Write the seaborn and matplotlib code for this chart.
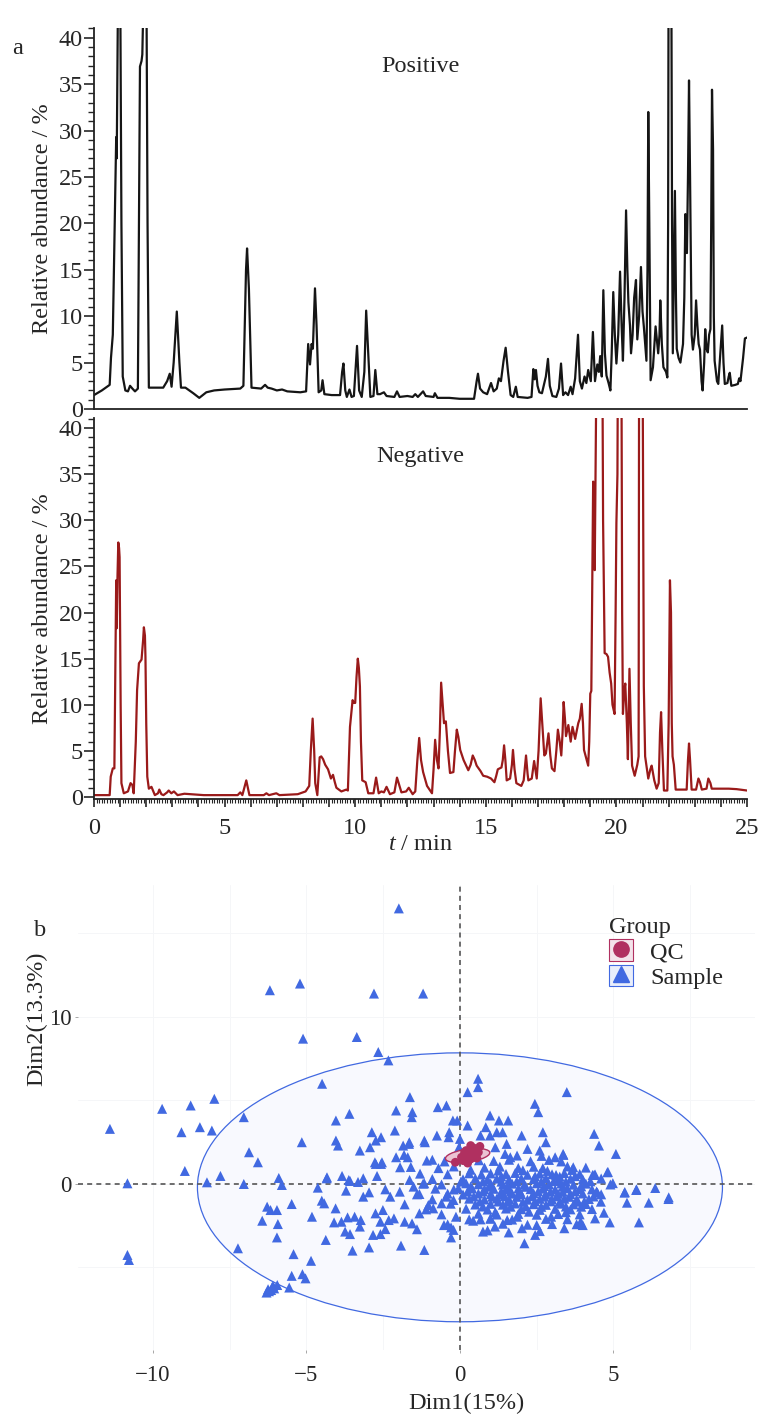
import matplotlib
matplotlib.use("Agg")
import pandas as pd
import matplotlib.pyplot as plt
import seaborn as sns
from matplotlib.patches import Ellipse, Rectangle
from matplotlib.lines import Line2D
from matplotlib.ticker import MultipleLocator, FuncFormatter

# ---------------- data ----------------
# positive-ion chromatogram: (time / min, relative abundance / %)
pos_trace = [
    (0.0, 1.5), (0.3, 2.0), (0.6, 2.6), (0.65, 5.5), (0.72, 8), (0.78, 18), (0.85, 29.3), (0.87, 27),
    (0.92, 45), (1.0, 48), (1.05, 20), (1.1, 3.5), (1.2, 2.0), (1.3, 1.9), (1.38, 2.5), (1.47, 2.2),
    (1.57, 1.9), (1.68, 2.2), (1.72, 20), (1.76, 36.9), (1.82, 37.5), (1.85, 38.2), (1.9, 45), (2.0, 50),
    (2.05, 20), (2.1, 2.3), (2.4, 2.3), (2.65, 2.3), (2.8, 3.0), (2.9, 3.8), (2.97, 2.4), (3.05, 5),
    (3.17, 10.5), (3.27, 5), (3.33, 2.3), (3.5, 2.3), (3.6, 2.1), (3.8, 1.7), (4.03, 1.2), (4.3, 1.8),
    (4.6, 2.0), (5.0, 2.1), (5.6, 2.2), (5.72, 2.5), (5.82, 15), (5.86, 17.3), (5.93, 13), (6.03, 2.3),
    (6.4, 2.2), (6.55, 2.6), (6.65, 2.3), (6.8, 2.2), (7.0, 2.0), (7.2, 2.1), (7.4, 1.9), (7.9, 1.8),
    (8.12, 1.9), (8.2, 7.0), (8.27, 4.8), (8.33, 7.0), (8.38, 6.5), (8.46, 13.0), (8.52, 9), (8.6, 1.8),
    (8.7, 2.0), (8.75, 3.1), (8.82, 1.6), (9.1, 1.5), (9.42, 1.5), (9.5, 4.0), (9.55, 4.9), (9.62, 2.0),
    (9.68, 1.3), (9.78, 2.1), (9.86, 1.3), (9.95, 1.4), (10.07, 6.8), (10.15, 2.0), (10.25, 1.3),
    (10.35, 4), (10.42, 10.6), (10.5, 6), (10.58, 1.3), (10.7, 1.4), (10.77, 4.2), (10.85, 1.6),
    (10.95, 1.6), (11.1, 1.8), (11.2, 1.4), (11.5, 1.3), (11.6, 1.9), (11.7, 1.3), (12.0, 1.4),
    (12.2, 1.3), (12.3, 1.6), (12.4, 1.3), (12.6, 1.9), (12.7, 1.4), (13.0, 1.3), (13.05, 1.7),
    (13.15, 1.2), (13.6, 1.2), (14.0, 1.1), (14.55, 1.1), (14.65, 3.0), (14.7, 3.8), (14.78, 2.2),
    (14.9, 1.8), (15.05, 1.6), (15.2, 2.8), (15.3, 1.9), (15.42, 2.2), (15.5, 3.3), (15.58, 3.0),
    (15.68, 5.2), (15.76, 6.6), (15.85, 4), (15.95, 1.5), (16.05, 1.3), (16.15, 2.4), (16.22, 1.3),
    (16.6, 1.2), (16.75, 1.3), (16.82, 4.3), (16.87, 3.2), (16.92, 4.2), (16.98, 2.5), (17.05, 1.8),
    (17.15, 1.7), (17.3, 3.5), (17.38, 5.4), (17.45, 2.5), (17.55, 1.4), (17.7, 1.3), (17.8, 2.2),
    (17.88, 4.9), (17.96, 1.5), (18.05, 1.8), (18.15, 1.5), (18.25, 2.4), (18.32, 1.6), (18.42, 3.3),
    (18.53, 8.0), (18.6, 3), (18.68, 2.2), (18.78, 3.5), (18.85, 2.8), (18.92, 4.2), (19.02, 3.0),
    (19.1, 8.3), (19.18, 3.0), (19.27, 4.8), (19.33, 4.0), (19.38, 5.7), (19.44, 3.5), (19.5, 12.8),
    (19.56, 6), (19.62, 3.6), (19.7, 2.8), (19.77, 2.0), (19.82, 6), (19.88, 12.6), (19.94, 8),
    (20.0, 4.9), (20.07, 8), (20.14, 14.8), (20.2, 9), (20.25, 5.2), (20.31, 12), (20.37, 21.4),
    (20.42, 15), (20.46, 11.5), (20.52, 9), (20.56, 6.0), (20.62, 8), (20.68, 12), (20.75, 13.9),
    (20.8, 7.5), (20.87, 10), (20.94, 15.3), (21.0, 10.5), (21.05, 8.9), (21.1, 7), (21.15, 5.2),
    (21.19, 15), (21.22, 32.0), (21.26, 20), (21.31, 3.1), (21.4, 4.5), (21.5, 8.9), (21.55, 7.5),
    (21.6, 6.0), (21.65, 8), (21.68, 11.7), (21.74, 7), (21.8, 4.5), (21.9, 4.0), (21.95, 3.4),
    (21.98, 20), (22.0, 50), (22.1, 50), (22.13, 20), (22.16, 6), (22.2, 15), (22.24, 23.5),
    (22.28, 12), (22.31, 6.5), (22.38, 5.5), (22.45, 5.0), (22.5, 6), (22.55, 7.0), (22.6, 12),
    (22.64, 21), (22.7, 16.8), (22.74, 25), (22.78, 35.4), (22.82, 25), (22.88, 8), (22.93, 6.4),
    (23.0, 8), (23.05, 11.7), (23.1, 9), (23.15, 7), (23.2, 6.4), (23.26, 3), (23.3, 2.0), (23.36, 5),
    (23.4, 8.6), (23.45, 6.5), (23.5, 6.1), (23.55, 8), (23.6, 8.6), (23.63, 20), (23.66, 34.4),
    (23.7, 28), (23.73, 10), (23.76, 5.2), (23.85, 3), (23.9, 2.7), (24.0, 7), (24.05, 9.0), (24.1, 5),
    (24.15, 2.7), (24.25, 2.8), (24.3, 3.5), (24.34, 3.9), (24.4, 2.5), (24.55, 2.6), (24.65, 2.7),
    (24.7, 3.3), (24.75, 3.0), (24.85, 5.5), (24.92, 7.6), (25.0, 7.7),
]

# negative-ion chromatogram
neg_trace = [
    (0.0, 0.2), (0.6, 0.2), (0.64, 2.2), (0.72, 3.1), (0.78, 3.1), (0.82, 15), (0.85, 23.5), (0.87, 18.3),
    (0.9, 24), (0.93, 27.6), (0.96, 27), (0.98, 26), (1.02, 10), (1.05, 1.5), (1.14, 0.4), (1.3, 0.6),
    (1.4, 1.5), (1.47, 1.3), (1.52, 0.4), (1.6, 6), (1.65, 11.6), (1.72, 14.5), (1.82, 14.9), (1.88, 17),
    (1.91, 18.4), (1.95, 17.5), (1.97, 15.2), (2.0, 8), (2.04, 2.2), (2.1, 0.9), (2.15, 1.0), (2.2, 1.1),
    (2.33, 0.2), (2.45, 0.4), (2.5, 0.8), (2.58, 0.3), (2.66, 0.2), (2.8, 0.5), (2.86, 0.7), (2.96, 0.4),
    (3.06, 0.6), (3.2, 0.2), (3.46, 0.35), (3.7, 0.3), (4.2, 0.2), (5.5, 0.2), (5.6, 0.5), (5.68, 0.2),
    (5.83, 1.8), (5.95, 0.2), (6.5, 0.2), (6.6, 0.4), (6.7, 0.2), (6.98, 0.4), (7.1, 0.2), (7.8, 0.3),
    (8.1, 0.6), (8.24, 1.2), (8.3, 5), (8.37, 8.5), (8.43, 5), (8.47, 1.5), (8.55, 0.2), (8.6, 2.5),
    (8.64, 4.3), (8.7, 4.4), (8.77, 4.1), (8.85, 3.5), (8.96, 3.0), (9.07, 2.0), (9.15, 2.4), (9.22, 1.6),
    (9.28, 1.0), (9.47, 0.6), (9.66, 0.8), (9.72, 0.7), (9.8, 7.6), (9.9, 10.5), (9.95, 10.2),
    (10.0, 10.2), (10.05, 13), (10.1, 15.0), (10.14, 14), (10.18, 12), (10.22, 6), (10.27, 1.8),
    (10.4, 1.6), (10.5, 0.4), (10.7, 0.4), (10.8, 2.1), (10.9, 0.4), (11.0, 0.6), (11.1, 0.5),
    (11.2, 1.1), (11.33, 0.3), (11.5, 0.5), (11.6, 2.1), (11.77, 0.5), (11.95, 0.6), (12.05, 1.0),
    (12.2, 0.3), (12.3, 0.6), (12.38, 4), (12.45, 6.4), (12.52, 4), (12.6, 2.7), (12.75, 1.2),
    (12.94, 0.4), (13.0, 3), (13.06, 6.2), (13.13, 4), (13.19, 3.1), (13.24, 7), (13.29, 12.4),
    (13.35, 10), (13.4, 8.0), (13.47, 8.2), (13.55, 5), (13.63, 2.6), (13.76, 2.7), (13.82, 5),
    (13.89, 7.3), (13.95, 6.5), (14.02, 5.1), (14.15, 4), (14.33, 2.9), (14.42, 3.5), (14.5, 4.5),
    (14.58, 4), (14.65, 3.4), (14.8, 2.8), (14.9, 2.3), (15.05, 2.2), (15.2, 2.0), (15.33, 1.6),
    (15.4, 2.3), (15.46, 3.0), (15.6, 3.2), (15.65, 4), (15.7, 5.6), (15.75, 4), (15.8, 1.8),
    (15.93, 2.0), (16.0, 3.5), (16.04, 5.1), (16.1, 3), (16.17, 1.5), (16.36, 1.2), (16.45, 1.8),
    (16.54, 4.5), (16.6, 2.5), (16.63, 1.8), (16.76, 2.0), (16.85, 3.9), (16.95, 2.0), (17.02, 5),
    (17.1, 10.7), (17.16, 8), (17.24, 4.5), (17.3, 4.7), (17.4, 6.9), (17.47, 4.5), (17.53, 3.1),
    (17.63, 2.8), (17.7, 5), (17.76, 7.3), (17.83, 6), (17.89, 4.5), (17.94, 7), (17.98, 10.3),
    (18.03, 8.5), (18.07, 6.6), (18.16, 7.8), (18.25, 6.0), (18.32, 7.6), (18.42, 6.3), (18.54, 8.0),
    (18.6, 8.5), (18.67, 10.1), (18.72, 8), (18.76, 5.1), (18.92, 3.4), (18.96, 6), (19.0, 11.2),
    (19.04, 11.5), (19.08, 25), (19.11, 34.2), (19.14, 30), (19.17, 24.6), (19.2, 35), (19.24, 48),
    (19.38, 52), (19.46, 50), (19.49, 30), (19.55, 15.6), (19.62, 15.5), (19.68, 15.2), (19.74, 13.5),
    (19.8, 12.3), (19.85, 10), (19.93, 9.0), (19.97, 20), (20.0, 29.7), (20.04, 35), (20.06, 50),
    (20.19, 50), (20.22, 20), (20.25, 9.0), (20.3, 11.5), (20.34, 12.3), (20.4, 8), (20.44, 4.1),
    (20.47, 9), (20.5, 13.9), (20.55, 8), (20.6, 3.4), (20.7, 2.3), (20.8, 3.5), (20.85, 4.4),
    (20.87, 50), (21.0, 50), (21.05, 12), (21.1, 4.4), (21.22, 2.0), (21.3, 3), (21.35, 3.4),
    (21.45, 1.8), (21.54, 0.9), (21.62, 1.5), (21.67, 7), (21.71, 9.2), (21.76, 5), (21.82, 0.7),
    (21.95, 0.7), (22.0, 8), (22.05, 23.5), (22.09, 20), (22.12, 8), (22.15, 4.4), (22.2, 3.5),
    (22.27, 0.8), (22.69, 0.8), (22.74, 4), (22.78, 5.8), (22.82, 4), (22.88, 0.8), (23.05, 0.8),
    (23.1, 1.5), (23.14, 2.0), (23.2, 1.6), (23.27, 0.8), (23.45, 0.9), (23.52, 2.0), (23.6, 1.5),
    (23.65, 0.9), (24.0, 0.9), (24.3, 0.9), (24.6, 0.85), (25.0, 0.7),
]

# PCA scores (Dim1, Dim2)
sample_scores = [
    # outer / upper points
    (-1.99, 16.5), (-6.19, 11.6), (-5.21, 12.0), (-2.8, 11.4), (-1.2, 11.4), (-5.11, 8.7), (-3.36, 8.8),
    (-2.66, 7.9), (-2.33, 7.4), (-4.49, 6.0), (0.59, 6.3), (0.59, 5.8), (0.25, 5.5), (3.48, 5.5),
    (-7.04, 4.0), (-8.0, 5.1), (-8.77, 4.7), (-9.7, 4.5), (-11.4, 3.3), (-9.07, 3.1), (-8.47, 3.4),
    (-8.08, 3.2), (-5.15, 2.5), (-6.87, 1.9), (-6.58, 1.3), (-4.04, 3.8), (-3.6, 4.2), (-2.87, 3.1),
    (-2.57, 2.8), (-2.74, 2.6), (-2.93, 2.2), (-3.26, 2.0), (-4.04, 2.6), (-3.97, 2.3), (-2.08, 4.4),
    (-2.12, 3.2), (-2.77, 1.3), (-2.54, 1.3), (-2.08, 1.6), (-1.63, 5.2), (2.44, 4.8), (2.55, 4.3),
    (-1.55, 4.3), (-1.57, 4.0), (-0.72, 4.6), (-0.44, 4.7), (0.98, 4.1), (1.27, 3.8), (1.57, 3.8),
    (-0.23, 3.8), (-0.09, 3.8), (0.25, 3.5), (0.84, 3.4), (2.7, 3.1), (4.37, 3.0), (4.53, 2.3),
    (5.08, 1.8), (-0.75, 2.9), (-0.35, 3.1), (-0.37, 2.8), (0.0, 2.7), (0.67, 2.9), (0.98, 2.9),
    (1.2, 3.1), (1.39, 3.1), (2.01, 2.9), (-1.16, 2.6), (-1.85, 2.3), (-1.65, 2.5), (1.52, 2.4),
    (1.15, 2.2), (2.2, 2.1), (2.8, 2.5), (2.6, 2.0), (3.36, 1.8), (3.1, 1.6), (3.69, 1.0), (1.86, 1.7),
    (1.64, 1.6), (1.47, 1.8), (-1.08, 1.4), (-8.96, 0.78), (-7.8, 0.48), (-8.24, 0.1), (-7.04, 0.0),
    (-5.9, 0.36), (-5.8, -0.06), (-10.83, 0.04), (-4.33, 0.4), (-3.84, 0.48), (-3.62, 0.24),
    (-3.32, 0.12), (-2.74, 1.2), (-2.57, 1.2), (-1.95, 1.0), (-1.82, 1.74), (-1.7, 1.6), (-1.66, 2.4),
    (-1.14, 2.5), (-0.03, 2.2), (4.82, 0.72), (4.98, 0.05), (5.37, -0.48), (5.74, -0.36), (6.36, -0.24),
    (6.8, -0.8), (3.13, 0.54), (4.37, 0.54), (2.66, 1.68), (3.37, 1.74), (4.32, 0.54), (4.8, 0.7),
    (-4.34, 0.34), (-3.58, 0.18), (-3.15, 0.34), (-2.7, 0.48), (-4.63, -0.22), (-3.71, -0.4),
    (-3.15, -0.76), (-2.96, -0.5), (-2.43, -0.32), (-2.27, -0.76), (-1.96, -0.46), (-1.32, -0.6),
    (-1.51, -0.16), (-1.64, 0.24), (-1.16, 0.04),
    # lower left
    (-6.28, -1.36), (-6.17, -1.56), (-5.96, -1.56), (-5.48, -1.2), (-6.44, -2.2), (-5.93, -2.4),
    (-5.96, -3.2), (-7.23, -3.85), (-5.42, -4.2), (-4.85, -4.6), (-5.48, -5.5), (-5.13, -5.4),
    (-5.03, -5.65), (-5.56, -6.2), (-6.09, -6.1), (-6.3, -6.5), (-6.22, -6.42), (-6.15, -6.35),
    (-6.05, -6.25), (-5.95, -6.05), (-6.25, -6.3), (-6.12, -6.18), (-10.83, -4.25), (-10.78, -4.55),
    (-4.82, -1.96), (-4.5, -1.0), (-4.42, -1.16), (-4.05, -1.46), (-4.1, -2.3), (-3.86, -2.26),
    (-3.66, -2.0), (-3.43, -1.96), (-3.23, -2.16), (-3.26, -2.55), (-3.74, -2.85), (-3.58, -3.0),
    (-4.37, -3.35), (-3.5, -3.99), (-2.96, -3.8), (-2.83, -3.05), (-2.59, -3.0), (-2.43, -2.7),
    (-2.59, -2.26), (-2.75, -1.76), (-2.51, -1.56), (-2.32, -2.16), (-2.15, -2.06), (-1.92, -3.69),
    (-1.8, -2.26), (-1.56, -2.36), (-1.4, -2.71), (-1.16, -3.95), (-1.32, -1.76), (-1.03, -1.26),
    (-0.87, -1.46), (-0.6, -1.16), (-0.52, -2.46), (-0.29, -2.6), (-0.21, -2.75), (-0.29, -3.2),
    (-0.13, -1.96), (-0.21, -0.96), (-0.45, -0.76), (-0.05, -0.26), (0.03, 0.14),
    # right side
    (6.79, -0.9), (6.15, -1.12), (5.83, -2.3), (5.75, -0.32), (5.36, -0.52), (5.44, -1.12),
    (4.88, -2.3), (4.48, -0.52), (4.59, -1.06), (4.69, -1.72), (4.4, -2.06), (4.0, -2.46),
    (3.93, -2.26), (3.4, -2.65), (2.97, -1.96), (2.5, -2.46), (2.45, -3.05), (2.1, -3.55),
    (1.59, -2.9), (1.14, -2.55), (2.02, -2.65), (0.75, -2.85), (0.67, -2.12), (0.43, -2.2),
    (0.99, -2.06), (1.54, -2.16), (1.86, -1.96),
    # dense core
    (-0.9, 1.45), (-0.5, 1.35), (0.62, 1.42), (1.1, 1.38), (1.6, 1.45), (2.3, 1.36), (2.9, 1.44), (3.3, 1.35),
    (-1.6, 1.02), (-0.7, 0.95), (-0.2, 1.05), (0.8, 0.98), (1.3, 1.04), (1.9, 0.96), (2.4, 1.03),
    (2.7, 0.95), (3.5, 1.05), (4.1, 0.98),
    (-1.3, 0.62), (-0.4, 0.58), (0.3, 0.64), (0.7, 0.57), (1.0, 0.63), (1.5, 0.6), (1.8, 0.66),
    (2.2, 0.55), (2.6, 0.62), (3.0, 0.58), (3.4, 0.65), (3.9, 0.6), (4.4, 0.57),
    (-0.9, 0.3), (0.1, 0.28), (0.5, 0.34), (0.9, 0.26), (1.2, 0.32), (1.6, 0.27), (2.0, 0.33),
    (2.4, 0.29), (2.8, 0.35), (3.2, 0.26), (3.6, 0.31), (4.0, 0.28), (4.6, 0.33),
    (-1.2, 0.02), (-0.6, -0.03), (0.2, 0.04), (0.6, -0.02), (1.0, 0.03), (1.4, -0.04), (1.7, 0.02),
    (2.1, -0.03), (2.5, 0.04), (2.9, -0.02), (3.3, 0.03), (3.7, -0.04), (4.1, 0.02), (4.9, -0.03),
    (-0.8, -0.28), (-0.2, -0.33), (0.4, -0.27), (0.8, -0.32), (1.1, -0.29), (1.5, -0.34),
    (1.9, -0.27), (2.3, -0.31), (2.7, -0.28), (3.1, -0.33), (3.5, -0.26), (3.9, -0.3), (4.3, -0.32),
    (-1.4, -0.62), (-0.4, -0.58), (0.1, -0.63), (0.6, -0.57), (1.0, -0.61), (1.3, -0.64),
    (1.7, -0.58), (2.0, -0.62), (2.4, -0.56), (2.8, -0.63), (3.2, -0.59), (3.6, -0.61), (4.0, -0.57),
    (4.6, -0.62),
    (-0.9, -0.92), (0.3, -0.88), (0.8, -0.93), (1.2, -0.87), (1.6, -0.91), (2.2, -0.94), (2.6, -0.89),
    (3.0, -0.92), (3.4, -0.88), (3.8, -0.93), (4.2, -0.9),
    (-1.8, -1.22), (-0.3, -1.18), (0.5, -1.23), (1.0, -1.19), (1.4, -1.24), (1.8, -1.17),
    (2.4, -1.21), (2.8, -1.25), (3.3, -1.18), (3.7, -1.22), (4.1, -1.2),
    (-1.1, -1.52), (0.2, -1.48), (0.9, -1.53), (1.5, -1.47), (2.0, -1.51), (2.6, -1.55),
    (3.1, -1.49), (3.6, -1.52), (4.3, -1.5),
    (-0.6, -1.82), (0.6, -1.78), (1.2, -1.83), (1.9, -1.79), (2.5, -1.84), (3.2, -1.8), (3.9, -1.82),
    (0.3, -2.12), (1.0, -2.08), (1.7, -2.13), (2.8, -2.09), (3.5, -2.11),
    (-0.4, -2.42), (1.4, -2.38), (2.2, -2.44), (3.0, -2.4), (3.8, -2.41),
    (0.9, -2.78), (2.6, -2.82),
    (0.35, 0.85), (1.25, 0.8), (2.05, 0.82), (2.85, 0.78), (3.65, 0.84), (0.75, -0.45),
    (1.65, -0.46), (2.55, -0.44), (3.35, -0.47), (1.25, -1.05), (2.05, -1.07), (2.95, -1.04),
    (3.85, -1.06), (1.15, -1.68), (2.25, -1.66), (3.45, -1.69),
    (0.35, -0.15), (0.95, -0.16), (1.55, -0.14), (2.15, -0.17), (2.75, -0.13), (3.35, -0.16),
    (3.95, -0.14), (0.25, -0.45), (1.35, -0.47), (1.95, -0.43), (2.95, -0.46), (3.75, -0.44),
    (4.45, -0.45), (0.45, -0.75), (1.05, -0.76), (1.45, -0.74), (1.85, -0.77), (2.35, -0.73),
    (2.75, -0.76), (3.15, -0.74), (3.55, -0.77), (4.35, -0.75), (0.65, -1.05), (1.55, -1.06),
    (2.45, -1.04), (3.25, -1.07), (4.05, -1.05), (0.75, -1.35), (1.65, -1.36), (2.15, -1.34),
    (2.65, -1.37), (3.45, -1.35), (3.95, -1.36), (0.75, 0.15), (1.35, 0.14), (1.85, 0.16),
    (2.65, 0.13), (3.05, 0.17), (3.45, 0.14), (4.25, 0.16), (1.35, 0.45), (2.45, 0.46),
    (3.25, 0.44), (3.75, 0.47),
]

qc_scores = [
    (0.1, 1.4), (0.2, 1.6), (0.3, 1.8), (0.35, 1.5), (0.4, 2.0), (0.5, 1.7), (0.25, 1.25),
    (0.15, 1.9), (0.45, 2.15), (0.6, 1.9), (0.05, 1.6), (0.3, 1.45), (0.55, 1.55), (0.4, 1.7),
    (0.2, 2.0), (-0.15, 1.3), (0.65, 2.25), (0.35, 2.3),
]

# 95% ellipses (centre x, centre y, width, height, angle)
sample_ellipse = (0.0, -0.2, 17.1, 16.1, 0)
qc_ellipse = (0.25, 1.7, 1.5, 0.75, 18)

group_names = ["QC", "Sample"]
group_colors = {"QC": "#B03060", "Sample": "#4169E1"}

# ---------------- style ----------------
sns.set_style("ticks")
plt.rcParams['font.family'] = ['Liberation Serif', 'DejaVu Serif']
plt.rcParams['mathtext.fontset'] = 'custom'
plt.rcParams['mathtext.rm'] = 'Liberation Serif'
plt.rcParams['mathtext.it'] = 'Liberation Serif:italic'

FS = 17.5
W, H = 765, 1416
fig = plt.figure(figsize=(W / 100, H / 100), dpi=100)


def fig_box(left, top, right, bottom):
    return [left / W, 1 - bottom / H, (right - left) / W, (bottom - top) / H]


pos_df = pd.DataFrame(pos_trace, columns=["time", "abundance"])
neg_df = pd.DataFrame(neg_trace, columns=["time", "abundance"])

ax1 = fig.add_axes(fig_box(94, 28, 747, 409))
ax2 = fig.add_axes(fig_box(94, 418, 747, 799))

sns.lineplot(data=pos_df, x="time", y="abundance", sort=False, estimator=None,
             color="#151515", lw=1.6, ax=ax1)
sns.lineplot(data=neg_df, x="time", y="abundance", sort=False, estimator=None,
             color="#9A1A1A", lw=1.6, ax=ax2)

for ax, ylim in [(ax1, (0, 41.05)), (ax2, (-0.22, 41.1))]:
    ax.set_xlim(0, 25)
    ax.set_ylim(*ylim)
    ax.set_ylabel("Relative abundance / %", fontsize=FS, labelpad=4)
    ax.set_xlabel("")
    ax.yaxis.set_major_locator(MultipleLocator(5))
    ax.yaxis.set_minor_locator(MultipleLocator(1))
    ax.tick_params(axis="y", which="major", length=7, width=1.2, labelsize=FS, pad=1)
    ax.tick_params(axis="y", which="minor", length=4, width=1.0)
    for s in ["top", "right"]:
        ax.spines[s].set_visible(False)
    for s in ["left", "bottom"]:
        ax.spines[s].set_linewidth(1.3)
        ax.spines[s].set_color("#222222")

ax1.tick_params(axis="x", which="both", bottom=False, labelbottom=False)
ax2.xaxis.set_major_locator(MultipleLocator(1))
ax2.xaxis.set_minor_locator(MultipleLocator(0.1))
ax2.xaxis.set_major_formatter(FuncFormatter(lambda v, p: f"{int(round(v))}" if round(v) % 5 == 0 else ""))
ax2.tick_params(axis="x", which="major", length=6, width=1.2, labelsize=FS, pad=8)
ax2.tick_params(axis="x", which="minor", length=3, width=0.8)
ax2.set_xlabel(r"$\mathit{t}$ / min", fontsize=FS, labelpad=-4)

ax1.text(0.5, 0.9, "Positive", transform=ax1.transAxes, ha="center", va="center", fontsize=FS)
ax2.text(0.5, 0.9, "Negative", transform=ax2.transAxes, ha="center", va="center", fontsize=FS)
fig.text(18 / W, 1 - 48 / H, "a", fontsize=FS, ha="center", va="center")

# ---------------- PCA panel ----------------
ax3 = fig.add_axes(fig_box(78, 885, 755, 1350))
sx, sy, sw, sh, sa = sample_ellipse
ax3.add_patch(Ellipse((sx, sy), sw, sh, angle=sa, facecolor="#F8F9FE",
                      edgecolor="#4169E1", lw=0.9, zorder=1))

sample_df = pd.DataFrame(sample_scores, columns=["Dim1", "Dim2"])
qc_df = pd.DataFrame(qc_scores, columns=["Dim1", "Dim2"])

sns.scatterplot(data=sample_df, x="Dim1", y="Dim2", marker="^", s=52,
                color=group_colors["Sample"], edgecolor="none", ax=ax3, zorder=3, legend=False)
qx, qy, qw, qh, qa = qc_ellipse
ax3.add_patch(Ellipse((qx, qy), qw, qh, angle=qa, facecolor="#EBC3D3",
                      edgecolor=group_colors["QC"], lw=1.0, zorder=4))
sns.scatterplot(data=qc_df, x="Dim1", y="Dim2", marker="o", s=40,
                color=group_colors["QC"], edgecolor="none", ax=ax3, zorder=5, legend=False)

ax3.axhline(0, color="#555555", ls=(0, (3, 2.5)), lw=1.2, zorder=2)
ax3.axvline(0, color="#555555", ls=(0, (3, 2.5)), lw=1.2, zorder=2)

ax3.set_xlim(-12.44, 9.61)
ax3.set_ylim(-9.94, 17.9)
ax3.xaxis.set_major_locator(MultipleLocator(5))
ax3.xaxis.set_minor_locator(MultipleLocator(2.5))
ax3.yaxis.set_major_locator(MultipleLocator(10))
ax3.yaxis.set_minor_locator(MultipleLocator(5))
ax3.grid(which="both", color="#F5F6F8", lw=0.7, zorder=0)
ax3.set_axisbelow(True)
for s in ax3.spines.values():
    s.set_visible(False)
ax3.tick_params(which="major", length=2.5, width=0.6, color="#999999", labelsize=16.5, pad=2)
ax3.tick_params(axis="x", which="major", pad=8)
ax3.tick_params(which="minor", length=0)
ax3.set_xlabel("")
ax3.set_ylabel("")

fig.text(37 / W, 1 - 1019 / H, "Dim2(13.3%)", rotation=90, fontsize=FS, ha="center", va="center")
fig.text(466 / W, 1 - 1403 / H, "Dim1(15%)", fontsize=FS, ha="center", va="center")
fig.text(40 / W, 1 - 930 / H, "b", fontsize=FS, ha="center", va="center")

handles = []
for g in group_names:
    c = group_colors[g]
    box = Rectangle((0, 0), 1, 1, facecolor="#F3E3EA" if g == "QC" else "#E9EEFB", edgecolor=c, lw=0.8)
    mk = Line2D([], [], ls="none", marker="o" if g == "QC" else "^", markersize=11, color=c)
    handles.append((box, mk))
leg = ax3.legend(handles, group_names, title="Group", loc="upper left",
                 bbox_to_anchor=(592 / W, 1 - 900 / H), bbox_transform=fig.transFigure,
                 frameon=False, fontsize=FS, title_fontsize=FS, handlelength=1.0,
                 handleheight=1.0, handletextpad=0.7, labelspacing=0.05, borderpad=0.2)
leg._legend_box.align = "left"

fig.savefig("out.png", dpi=100)
